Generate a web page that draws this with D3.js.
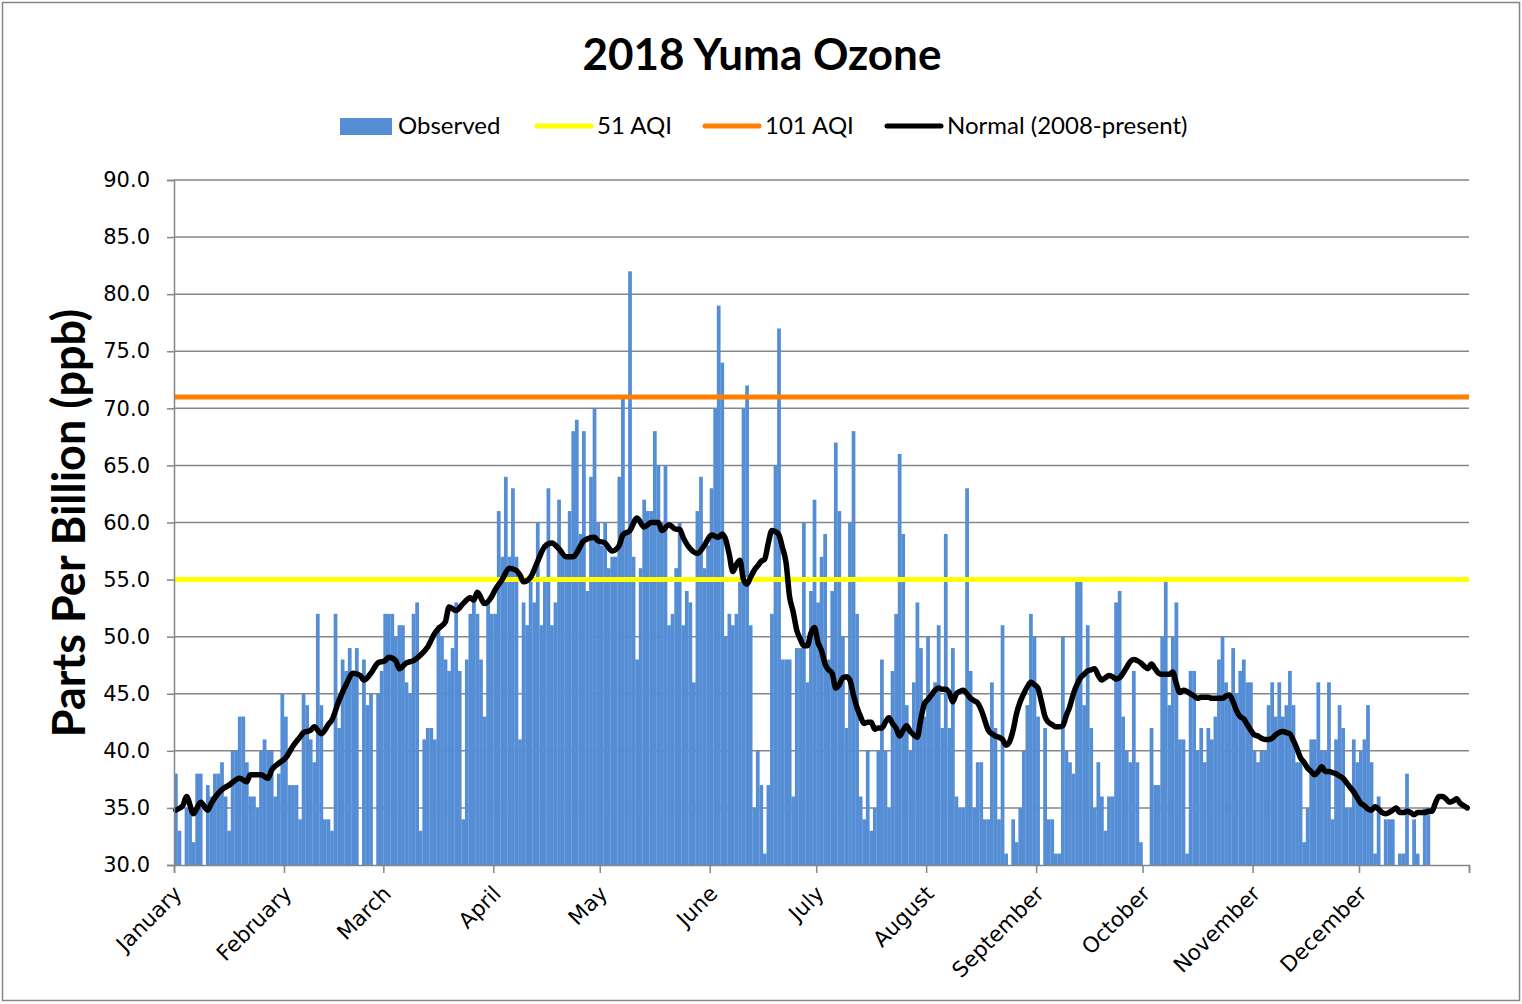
<!DOCTYPE html>
<html>
<head>
<meta charset="utf-8">
<script src="https://cdn.jsdelivr.net/npm/d3@7"></script>
<style>
  body { margin: 0; background: #fff; }
  svg { display: block; }
</style>
</head>
<body>
<svg id="chart"></svg>
<script>
// daily observed ozone, Jan 1 .. Dec 31 2018 (null = no bar)
let observed = [
  38,33,null,35,35,32,38,38,null,37,36,38,38,39,36,33,40,40,43,43,39,36,36,35,40,41,40,40,36,38,45,
  43,37,37,37,34,45,44,41,39,52,44,34,34,33,52,42,48,47,49,47,49,null,48,44,45,null,45,47,
  52,52,52,50,51,51,46,45,52,53,33,41,42,42,41,51,50,48,47,49,53,47,34,48,52,53,52,48,43,53,52,
  52,61,57,64,57,63,57,41,53,51,55,53,60,51,55,63,51,53,62,57,57,61,68,69,59,68,54,64,70,60,
  58,60,56,57,57,64,71,59,82,57,48,56,62,61,61,68,65,60,65,51,52,56,60,51,54,53,46,61,64,56,58,
  63,70,79,74,50,52,51,52,55,70,72,51,35,40,37,31,37,52,65,77,48,48,48,36,49,49,60,46,54,62,
  53,57,59,48,54,67,61,50,42,60,68,52,36,34,40,33,35,40,48,40,35,47,52,66,59,44,40,46,53,49,43,
  50,45,46,51,42,59,42,49,36,35,35,63,47,35,39,39,34,34,46,42,34,51,31,null,34,32,35,40,44,52,50,
  43,null,42,34,34,31,31,50,40,39,38,55,55,44,51,42,35,39,36,33,36,36,53,54,43,40,39,47,39,32,
  null,null,42,37,37,50,55,44,50,53,41,41,31,47,47,40,42,39,42,41,43,48,50,46,45,49,45,47,48,46,46,
  40,39,40,40,44,46,43,46,43,44,47,44,39,39,32,35,41,41,46,40,40,46,34,41,44,42,35,35,41,39,
  40,41,44,39,31,36,null,34,34,34,null,31,31,38,null,34,31,null,35,35,
  null,null,null,null,null,null,null,null,null,null,null
];

// normal (2008-present), read at these day-of-year positions
let normalDay = [
  0,2,3,5,7,9,10,12,13,15,18,20,21,24,26,27,29,31,33,35,36,38,39,41,43,44,46,48,50,52,53,55,57,59,
  60,62,63,65,67,69,71,73,74,76,77,79,81,83,84,85,87,89,90,92,94,96,97,98,100,102,104,106,108,110,
  112,114,115,118,119,121,123,125,126,128,130,132,134,136,137,139,141,142,143,145,147,149,151,153,
  154,155,156,157,158,159
];
let normalPpb = [
  34.8,35.2,36.0,34.5,35.5,34.8,35.4,36.3,36.6,37.0,37.6,37.3,37.9,37.9,37.6,38.3,38.9,39.4,40.4,41.2,
  41.6,41.8,42.1,41.5,42.3,42.7,44.4,45.8,46.8,46.6,46.2,46.8,47.7,47.9,
  48.2,47.9,47.2,47.7,47.9,48.4,49.1,50.3,50.7,51.3,52.6,52.3,52.9,53.4,53.2,53.9,52.9,53.5,54.1,55.0,
  56.0,55.8,55.4,54.8,55.2,56.6,57.9,58.2,57.7,57.0,
  57.0,57.9,58.4,58.7,58.4,58.2,57.5,58.0,58.9,59.3,60.4,59.6,60.0,60.0,59.3,59.8,59.4,59.4,58.7,57.7,
  57.3,58.0,58.9,58.7,59.0,58.5,57.2,55.7,56.3,56.7
];
// daily from day 160 on
let normalDaily = [
  55.0,54.6,55.2,55.8,56.2,56.6,56.8,58.2,59.3,59.2,58.9,57.8,56.5,53.5,52.2,50.6,49.8,49.2,49.2,50.3,
  50.8,49.5,48.8,47.6,47.1,46.8,45.5,45.8,46.4,46.5,46.2,44.9,43.8,43.0,42.4,42.5,42.5,41.9,42.0,42.0,
  42.5,42.9,42.4,42.0,41.3,41.8,42.2,41.7,41.4,41.2,42.8,44.1,44.5,44.9,45.3,45.5,45.4,45.4,45.1,44.3,
  45.0,45.2,45.3,45.0,44.6,44.4,44.2,43.6,42.7,41.8,41.5,41.3,41.2,41.0,40.5,40.8,41.8,43.3,44.3,45.0,
  45.6,46.0,45.8,45.5,44.3,43.0,42.5,42.3,42.1,42.1,42.2,43.1,43.9,45.0,45.8,46.4,46.7,47.0,47.1,47.2,
  46.6,46.2,46.4,46.6,46.5,46.3,46.4,46.8,47.3,47.8,48.0,47.9,47.7,47.4,47.2,47.6,47.2,46.8,46.7,46.7,
  46.7,46.9,45.9,45.1,45.3,45.2,45.0,44.8,44.6,44.7,44.7,44.7,44.6,44.6,44.6,44.6,44.8,44.9,44.3,43.5,
  43.0,42.8,42.3,41.8,41.4,41.3,41.1,41.0,41.0,41.1,41.4,41.6,41.7,41.6,41.5,40.9,40.2,39.4,39.0,38.5,
  38.2,37.9,38.2,38.6,38.2,38.2,38.1,38.0,37.8,37.6,37.2,36.8,36.4,35.9,35.4,35.2,34.9,34.8,35.1,34.9,
  34.6,34.5,34.6,34.8,35.0,34.6,34.6,34.7,34.6,34.4,34.6,34.6,34.6,34.7,34.7,35.4,36.0,36.0,35.8,35.5,
  35.6,35.8,35.4,35.2,35.0
];

let aqi51 = 55;
let aqi101 = 71;
let yTicks = [30, 35, 40, 45, 50, 55, 60, 65, 70, 75, 80, 85, 90];
let monthNames = ["January", "February", "March", "April", "May", "June", "July",
  "August", "September", "October", "November", "December"];

function drawChart() {
  let w = 1522, h = 1004;
  let left = 174, right = 1469, top = 180, bottom = 865;
  let gray = "#868686";

  let svg = d3.select("#chart").attr("width", w).attr("height", h);

  svg.append("rect")
    .attr("x", 2.5).attr("y", 2.5)
    .attr("width", 1517).attr("height", 998)
    .attr("fill", "#fff").attr("stroke", gray).attr("stroke-width", 1.5);

  let start = new Date(Date.UTC(2018, 0, 1));
  let end = new Date(Date.UTC(2019, 0, 1));
  let x = d3.scaleUtc().domain([start, end]).range([left, right]);
  let y = d3.scaleLinear().domain([30, 90]).range([bottom, top]);
  let dayX = i => x(d3.utcDay.offset(start, i));
  let dayW = dayX(1) - dayX(0);

  // gridlines
  svg.append("g").selectAll("line")
    .data(yTicks.slice(1))
    .enter().append("line")
    .attr("x1", left).attr("x2", right)
    .attr("y1", d => y(d)).attr("y2", d => y(d))
    .attr("stroke", gray).attr("stroke-width", 1.5);

  // observed bars
  svg.append("g").selectAll("rect")
    .data(observed.map((v, i) => ({ i: i, v: v })).filter(d => d.v != null && d.v > 30))
    .enter().append("rect")
    .attr("x", d => dayX(d.i))
    .attr("width", dayW + 0.2)
    .attr("y", d => y(d.v))
    .attr("height", d => y(30) - y(d.v))
    .attr("fill", "#558ED5");

  // AQI thresholds
  svg.append("line")
    .attr("x1", left).attr("x2", right)
    .attr("y1", y(aqi51)).attr("y2", y(aqi51))
    .attr("stroke", "#FFFF00").attr("stroke-width", 5);
  svg.append("line")
    .attr("x1", left).attr("x2", right)
    .attr("y1", y(aqi101)).attr("y2", y(aqi101))
    .attr("stroke", "#FF8000").attr("stroke-width", 5);

  // normal line
  let normal = normalDay.map((d, k) => [d, normalPpb[k]])
    .concat(normalDaily.map((v, k) => [160 + k, v]));
  let line = d3.line()
    .x(d => dayX(d[0]) + dayW / 2)
    .y(d => y(d[1]))
    .curve(d3.curveMonotoneX);
  svg.append("path")
    .datum(normal)
    .attr("d", line)
    .attr("fill", "none")
    .attr("stroke", "#000")
    .attr("stroke-width", 5.5)
    .attr("stroke-linejoin", "round")
    .attr("stroke-linecap", "round");

  // y axis
  let yAxis = svg.append("g")
    .attr("transform", `translate(${left},0)`)
    .call(d3.axisLeft(y).tickValues(yTicks).tickFormat(d3.format(".1f")).tickSize(7).tickPadding(17));
  yAxis.select(".domain").attr("stroke", gray).attr("stroke-width", 1.5);
  yAxis.selectAll(".tick line").attr("stroke", gray).attr("stroke-width", 1.5);
  yAxis.selectAll(".tick text")
    .attr("font-family", "DejaVu Sans").attr("font-size", 21).attr("fill", "#000");

  // x axis
  let monthStarts = d3.utcMonths(start, end);
  let xAxis = svg.append("g")
    .attr("transform", `translate(0,${bottom})`)
    .call(d3.axisBottom(x).tickValues(monthStarts.concat([end])).tickFormat("").tickSize(8));
  xAxis.select(".domain").attr("stroke", gray).attr("stroke-width", 1.5);
  xAxis.selectAll(".tick line").attr("stroke", gray).attr("stroke-width", 1.5);

  svg.append("g").selectAll("text")
    .data(monthStarts)
    .enter().append("text")
    .attr("transform", d => `translate(${x(d) + 9},${bottom + 30}) rotate(-45)`)
    .attr("text-anchor", "end")
    .attr("font-family", "DejaVu Sans")
    .attr("font-size", 21.5)
    .text((d, i) => monthNames[i]);

  // titles
  svg.append("text")
    .attr("x", 762).attr("y", 70)
    .attr("text-anchor", "middle")
    .attr("font-family", "Lato").attr("font-weight", "bold").attr("font-size", 44)
    .text("2018 Yuma Ozone");

  svg.append("text")
    .attr("transform", "translate(85,523) rotate(-90)")
    .attr("text-anchor", "middle")
    .attr("font-family", "Lato").attr("font-weight", "bold").attr("font-size", 45)
    .text("Parts Per Billion (ppb)");

  // legend
  let legend = svg.append("g").attr("font-family", "Lato").attr("font-size", 24);
  legend.append("rect").attr("x", 340).attr("y", 118).attr("width", 52).attr("height", 17).attr("fill", "#558ED5");
  legend.append("text").attr("x", 398).attr("y", 134).text("Observed");
  let items = [
    { x: 537, color: "#FFFF00", label: "51 AQI" },
    { x: 705, color: "#FF8000", label: "101 AQI" },
    { x: 887, color: "#000", label: "Normal (2008-present)" }
  ];
  items.forEach(it => {
    legend.append("line")
      .attr("x1", it.x).attr("x2", it.x + 54)
      .attr("y1", 126).attr("y2", 126)
      .attr("stroke", it.color).attr("stroke-width", 5).attr("stroke-linecap", "round");
    legend.append("text").attr("x", it.x + 60).attr("y", 134).text(it.label);
  });
}

window.onload = function() {
  drawChart();
};
</script>
</body>
</html>
